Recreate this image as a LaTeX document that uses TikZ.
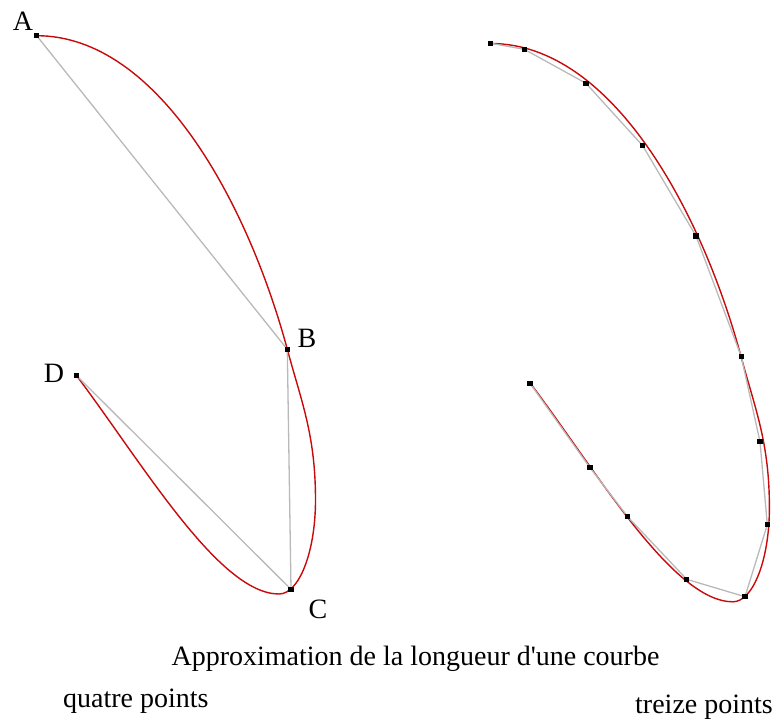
\documentclass[tikz,border=0pt]{standalone}
\usepackage{fontspec}
\setmainfont{Liberation Serif}
\definecolor{curvered}{RGB}{200,10,10}
\definecolor{chordgray}{RGB}{185,185,185}
\begin{document}
\begin{tikzpicture}[x=1pt,y=-1pt,
  curve/.style={draw=curvered,line width=1.4pt},
  chord/.style={draw=chordgray,line width=1.3pt,line join=round},
  pt/.style={fill=black,draw=none,minimum size=5.5pt,inner sep=0pt,rectangle},
  lbl/.style={font=\fontsize{28}{30}\selectfont,inner sep=0pt,anchor=base}]
\useasboundingbox (0,0) rectangle (774,721);

% ---------- left: four points ----------
\coordinate (A) at (36.7,35.7);
\coordinate (B) at (287.3,349.3);
\coordinate (C) at (291,589.3);
\coordinate (D) at (76.3,375.3);

\def\redcurve{(36.7,35.7) .. controls (158.4,35.7) and (248.3,204.4) .. (287.3,349.3)
  .. controls (301.6,402.4) and (315.5,435) .. (315.5,500)
  .. controls (315.5,551.9) and (299.1,594) .. (279,594)
  .. controls (219,594) and (142.5,463.2) .. (76.3,375.3)}

\draw[curve] \redcurve;
\draw[chord] (A) -- (B) -- (C) -- (D);
\foreach \p in {A,B,C,D} \node[pt] at (\p) {};

\node[lbl] (la) at (23,30.7) {A};
\node[lbl] (lb) at (307,347) {B};
\node[lbl] (lc) at (318,618) {C};
\node[lbl] (ld) at (54,382) {D};

% ---------- right: thirteen points ----------
\begin{scope}[shift={(453.9,7.8)}]
\draw[curve] \redcurve;
\end{scope}
\coordinate (p0) at (490.7,43.3);
\coordinate (p1) at (524.3,49.3);
\coordinate (p2) at (586,83.3);
\coordinate (p3) at (642.7,145.7);
\coordinate (p4) at (696,236);
\coordinate (p5) at (741.3,356.7);
\coordinate (p6) at (760,441.7);
\coordinate (p7) at (767.3,524.7);
\coordinate (p8) at (745,596.7);
\coordinate (p9) at (686.7,579.3);
\coordinate (p10) at (627.7,516.7);
\coordinate (p11) at (590,467.7);
\coordinate (p12) at (530,383.3);
\draw[chord] (p0) -- (p1) -- (p2) -- (p3) -- (p4) -- (p5) -- (p6) -- (p7) -- (p8) -- (p9) -- (p10) -- (p11) -- (p12);
\foreach \i in {0,...,12} \node[pt] at (p\i) {};

% ---------- texts ----------
\node[lbl] (title) at (415.5,665) {Approximation de la longueur d\textquotesingle une courbe};
\node[lbl,anchor=base west] (q4) at (63,707) {quatre points};
\node[lbl,anchor=base west] (q13) at (635,713) {treize points};
\end{tikzpicture}
\end{document}
